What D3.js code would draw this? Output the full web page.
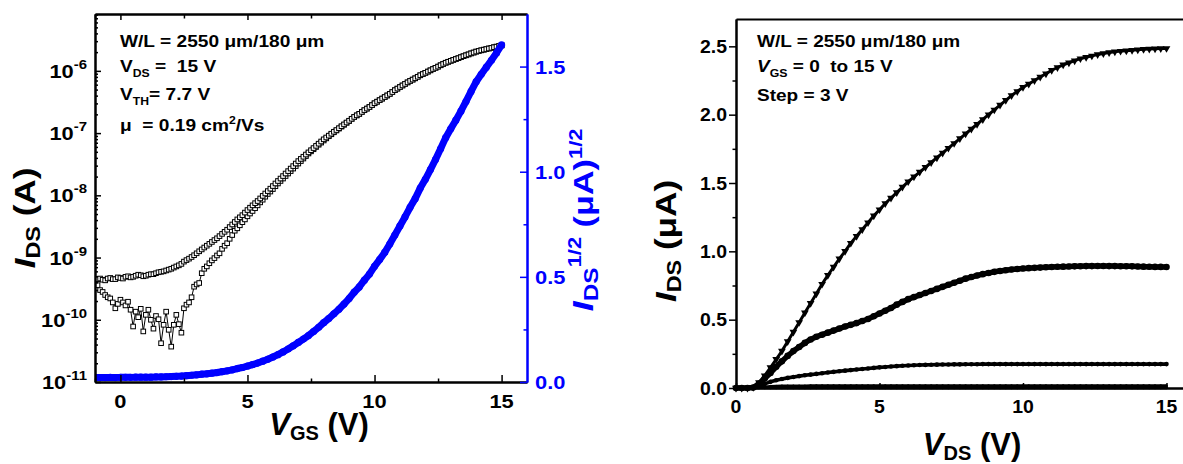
<!DOCTYPE html>
<html><head><meta charset="utf-8">
<script src="https://cdn.jsdelivr.net/npm/d3@7"></script>
<style>
body{margin:0;background:#fff}
svg{display:block}
text{font-family:Arial,"Liberation Sans",sans-serif;font-weight:bold;white-space:pre}
</style>
</head><body>
<svg id="c" width="1183" height="464"></svg>
<script>
// ---------- Transfer curve (left panel) ----------
const vgsFine = [
 -1.0,-0.9,-0.8,-0.7,-0.6,-0.5,-0.4,-0.3,-0.2,-0.1,
 0.0,0.1,0.2,0.3,0.4,0.5,0.6,0.7,0.8,0.9,
 1.0,1.1,1.2,1.3,1.4,1.5,1.6,1.7,1.8,1.9,
 2.0,2.1,2.2,2.3,2.4,2.5,2.6,2.7,2.8,2.9,
 3.0,3.1,3.2,3.3,3.4,3.5,3.6,3.7,3.8,3.9,
 4.0,4.1,4.2,4.3,4.4,4.5,4.6,4.7,4.8,4.9,
 5.0,5.1,5.2,5.3,5.4,5.5,5.6,5.7,5.8,5.9,
 6.0,6.1,6.2,6.3,6.4,6.5,6.6,6.7,6.8,6.9,
 7.0,7.1,7.2,7.3,7.4,7.5,7.6,7.7,7.8,7.9,
 8.0,8.1,8.2,8.3,8.4,8.5,8.6,8.7,8.8,8.9,
 9.0,9.1,9.2,9.3,9.4,9.5,9.6,9.7,9.8,9.9,
 10.0,10.1,10.2,10.3,10.4,10.5,10.6,10.7,10.8,10.9,
 11.0,11.1,11.2,11.3,11.4,11.5,11.6,11.7,11.8,11.9,
 12.0,12.1,12.2,12.3,12.4,12.5,12.6,12.7,12.8,12.9,
 13.0,13.1,13.2,13.3,13.4,13.5,13.6,13.7,13.8,13.9,
 14.0,14.1,14.2,14.3,14.4,14.5,14.6,14.7,14.8,14.9,
 15.0];
const idsSweepA = [ // A, upper branch
 4.4e-10,4.5e-10,4.6e-10,4.4e-10,4.3e-10,4.6e-10,4.7e-10,4.5e-10,4.5e-10,4.8e-10,
 4.7e-10,4.6e-10,4.9e-10,5.0e-10,4.8e-10,4.9e-10,5.1e-10,5.3e-10,5.2e-10,5.0e-10,
 5.1e-10,5.3e-10,5.4e-10,5.4e-10,5.6e-10,5.8e-10,5.9e-10,6.0e-10,6.2e-10,6.4e-10,
 6.6e-10,6.9e-10,7.2e-10,7.5e-10,7.9e-10,8.6e-10,9.1e-10,9.6e-10,1.02e-9,1.09e-9,
 1.17e-9,1.26e-9,1.35e-9,1.45e-9,1.55e-9,1.66e-9,1.78e-9,1.91e-9,2.04e-9,2.21e-9,
 2.40e-9,2.59e-9,2.80e-9,3.09e-9,3.40e-9,3.73e-9,4.10e-9,4.43e-9,4.80e-9,5.28e-9,
 5.80e-9,6.33e-9,6.90e-9,7.48e-9,8.10e-9,8.91e-9,9.80e-9,1.07e-8,1.17e-8,1.28e-8,
 1.41e-8,1.55e-8,1.70e-8,1.86e-8,2.04e-8,2.24e-8,2.45e-8,2.69e-8,2.95e-8,3.24e-8,
 3.55e-8,3.85e-8,4.17e-8,4.52e-8,4.90e-8,5.31e-8,5.75e-8,6.24e-8,6.76e-8,7.33e-8,
 7.94e-8,8.50e-8,9.10e-8,9.78e-8,1.05e-7,1.12e-7,1.20e-7,1.29e-7,1.38e-7,1.48e-7,
 1.58e-7,1.70e-7,1.82e-7,1.93e-7,2.04e-7,2.19e-7,2.34e-7,2.48e-7,2.63e-7,2.82e-7,
 3.02e-7,3.20e-7,3.39e-7,3.59e-7,3.80e-7,4.03e-7,4.27e-7,4.57e-7,4.90e-7,5.19e-7,
 5.50e-7,5.83e-7,6.17e-7,6.53e-7,6.90e-7,7.24e-7,7.60e-7,8.04e-7,8.50e-7,8.89e-7,
 9.30e-7,9.74e-7,1.02e-6,1.07e-6,1.12e-6,1.17e-6,1.23e-6,1.29e-6,1.35e-6,1.40e-6,
 1.45e-6,1.50e-6,1.55e-6,1.60e-6,1.66e-6,1.72e-6,1.78e-6,1.84e-6,1.91e-6,1.97e-6,
 2.04e-6,2.09e-6,2.14e-6,2.19e-6,2.24e-6,2.29e-6,2.34e-6,2.40e-6,2.45e-6,2.51e-6,
 2.57e-6];
const idsSweepB = [ // A, lower (noisy) branch
 4.2e-10,3.6e-10,3.0e-10,2.8e-10,2.5e-10,2.3e-10,2.2e-10,1.9e-10,1.53e-10,1.8e-10,
 2.1e-10,1.9e-10,1.7e-10,1.95e-10,1.45e-10,7.8e-11,1.35e-10,1.1e-10,1.5e-10,6.5e-11,
 1.2e-10,1.45e-10,1.0e-10,7.2e-11,1.15e-10,1.02e-10,4.2e-11,8.3e-11,1.35e-10,6.9e-11,
 3.7e-11,8.3e-11,1.2e-10,8.5e-11,6.2e-11,1.53e-10,1.75e-10,1.9e-10,2.3e-10,3.4e-10,
 3.7e-10,3.9e-10,5.6e-10,6.6e-10,7.2e-10,8.1e-10,9.0e-10,9.8e-10,1.08e-9,1.17e-9,
 1.38e-9,1.55e-9,1.70e-9,2.0e-9,2.3e-9,2.7e-9,2.95e-9,3.3e-9,3.7e-9,4.1e-9,
 4.6e-9,5.1e-9,5.6e-9,6.2e-9,6.9e-9,7.7e-9,8.5e-9,9.5e-9,1.05e-8,1.15e-8,
 1.26e-8,1.40e-8,1.55e-8,1.70e-8,1.86e-8,2.04e-8,2.24e-8,2.45e-8,2.69e-8,2.95e-8,
 3.24e-8,3.55e-8,3.90e-8,4.27e-8,4.70e-8,5.09e-8,5.50e-8,5.98e-8,6.50e-8,7.03e-8,
 7.60e-8,8.22e-8,8.90e-8,9.57e-8,1.03e-7,1.10e-7,1.18e-7,1.27e-7,1.36e-7,1.46e-7,
 1.56e-7,1.69e-7,1.81e-7,1.92e-7,2.03e-7,2.18e-7,2.33e-7,2.47e-7,2.62e-7,2.81e-7,
 3.01e-7,3.19e-7,3.38e-7,3.58e-7,3.79e-7,4.02e-7,4.26e-7,4.56e-7,4.89e-7,5.18e-7,
 5.49e-7,5.82e-7,6.16e-7,6.52e-7,6.89e-7,7.23e-7,7.59e-7,8.03e-7,8.49e-7,8.88e-7,
 9.29e-7,9.73e-7,1.02e-6,1.07e-6,1.12e-6,1.17e-6,1.23e-6,1.29e-6,1.35e-6,1.40e-6,
 1.45e-6,1.50e-6,1.55e-6,1.60e-6,1.66e-6,1.72e-6,1.78e-6,1.84e-6,1.91e-6,1.97e-6,
 2.04e-6,2.09e-6,2.14e-6,2.19e-6,2.24e-6,2.29e-6,2.34e-6,2.40e-6,2.45e-6,2.51e-6,
 2.57e-6];
const vgs = [
 -1.0,-0.8,-0.6,-0.4,-0.2,0.0,0.2,0.4,0.6,0.8,
 1.0,1.2,1.4,1.6,1.8,2.0,2.2,2.4,2.6,2.8,
 3.0,3.2,3.4,3.6,3.8,4.0,4.2,4.4,4.6,4.8,
 5.0,5.2,5.4,5.6,5.8,6.0,6.2,6.4,6.6,6.8,
 7.0,7.2,7.4,7.6,7.8,8.0,8.2,8.4,8.6,8.8,
 9.0,9.2,9.4,9.6,9.8,10.0,10.2,10.4,10.6,10.8,
 11.0,11.2,11.4,11.6,11.8,12.0,12.2,12.4,12.6,12.8,
 13.0,13.2,13.4,13.6,13.8,14.0,14.2,14.4,14.6,14.8,
 15.0];
const sqrtIds = [ // (uA)^1/2
 0.021,0.021,0.021,0.022,0.021,0.022,0.022,0.022,0.023,0.023,
 0.023,0.023,0.024,0.024,0.025,0.026,0.027,0.028,0.030,0.032,
 0.034,0.037,0.039,0.042,0.045,0.049,0.053,0.058,0.064,0.069,
 0.076,0.083,0.090,0.099,0.108,0.119,0.130,0.143,0.157,0.172,
 0.188,0.204,0.221,0.240,0.260,0.282,0.302,0.324,0.346,0.371,
 0.397,0.427,0.452,0.484,0.513,0.550,0.582,0.616,0.656,0.699,
 0.742,0.785,0.831,0.872,0.922,0.964,1.010,1.058,1.109,1.162,
 1.204,1.245,1.288,1.334,1.382,1.428,1.463,1.497,1.530,1.565,
 1.603];
const transferXTicks = [0,5,10,15];
const transferXMinor = [-1,2.5,7.5,12.5];
const logDecades = [-11,-10,-9,-8,-7,-6];
const sqrtTicks = [0,0.5,1.0,1.5];
const sqrtMinor = [0.25,0.75,1.25];

// ---------- Output curves (right panel) ----------
const vds = [
 0.0,0.2,0.4,0.6,0.8,1.0,1.2,1.4,1.6,1.8,
 2.0,2.2,2.4,2.6,2.8,3.0,3.2,3.4,3.6,3.8,
 4.0,4.2,4.4,4.6,4.8,5.0,5.2,5.4,5.6,5.8,
 6.0,6.2,6.4,6.6,6.8,7.0,7.2,7.4,7.6,7.8,
 8.0,8.2,8.4,8.6,8.8,9.0,9.2,9.4,9.6,9.8,
 10.0,10.2,10.4,10.6,10.8,11.0,11.2,11.4,11.6,11.8,
 12.0,12.2,12.4,12.6,12.8,13.0,13.2,13.4,13.6,13.8,
 14.0,14.2,14.4,14.6,14.8,15.0];
const idsVgs15 = [
 0,0,0,0.005,0.04,0.09,0.15,0.21,0.27,0.34,
 0.41,0.48,0.55,0.62,0.69,0.76,0.825,0.885,0.945,1.00,
 1.06,1.11,1.16,1.21,1.26,1.305,1.35,1.39,1.43,1.47,
 1.51,1.545,1.58,1.615,1.65,1.685,1.72,1.755,1.79,1.825,
 1.86,1.895,1.93,1.965,2.00,2.035,2.07,2.105,2.14,2.17,
 2.20,2.225,2.25,2.275,2.30,2.325,2.345,2.365,2.38,2.395,
 2.41,2.42,2.43,2.44,2.448,2.455,2.46,2.465,2.468,2.472,
 2.475,2.478,2.48,2.482,2.484,2.485];
const idsVgs12 = [
 0,0,0,0.003,0.03,0.07,0.11,0.155,0.195,0.235,
 0.27,0.30,0.33,0.355,0.375,0.39,0.405,0.42,0.435,0.45,
 0.462,0.475,0.49,0.505,0.525,0.545,0.565,0.585,0.61,0.63,
 0.65,0.665,0.68,0.695,0.71,0.725,0.74,0.755,0.77,0.785,
 0.80,0.812,0.823,0.833,0.842,0.85,0.856,0.862,0.867,0.871,
 0.874,0.877,0.879,0.881,0.883,0.885,0.887,0.888,0.889,0.89,
 0.891,0.892,0.892,0.893,0.893,0.892,0.892,0.891,0.891,0.89,
 0.889,0.888,0.887,0.886,0.886,0.885];
const idsVgs9 = [
 0,0,0,0.002,0.015,0.03,0.045,0.057,0.066,0.074,
 0.081,0.087,0.093,0.098,0.103,0.108,0.113,0.118,0.123,0.127,
 0.131,0.135,0.139,0.143,0.147,0.151,0.154,0.157,0.160,0.163,
 0.165,0.167,0.168,0.169,0.170,0.171,0.172,0.172,0.173,0.173,
 0.174,0.174,0.174,0.175,0.175,0.175,0.175,0.175,0.175,0.175,
 0.175,0.175,0.175,0.175,0.175,0.175,0.175,0.175,0.175,0.175,
 0.175,0.175,0.175,0.175,0.175,0.175,0.175,0.175,0.175,0.175,
 0.175,0.175,0.175,0.175,0.175,0.175];
const idsVgs6 = [
 0,0,0,0,0.004,0.008,0.011,0.013,0.014,0.014,
 0.015,0.015,0.015,0.016,0.016,0.016,0.016,0.016,0.017,0.017,
 0.017,0.017,0.017,0.017,0.017,0.017,0.017,0.017,0.017,0.017,
 0.017,0.017,0.017,0.017,0.017,0.017,0.017,0.017,0.017,0.017,
 0.017,0.017,0.017,0.017,0.017,0.017,0.017,0.017,0.017,0.017,
 0.017,0.017,0.017,0.017,0.017,0.017,0.017,0.017,0.017,0.017,
 0.017,0.017,0.017,0.017,0.017,0.017,0.017,0.017,0.017,0.017,
 0.017,0.017,0.017,0.017,0.017,0.017];
const idsVgs3 = [
 0,0,0,0,0.001,0.002,0.002,0.002,0.002,0.002,
 0.002,0.002,0.002,0.002,0.002,0.002,0.002,0.002,0.002,0.002,
 0.002,0.002,0.002,0.002,0.002,0.002,0.002,0.002,0.002,0.002,
 0.002,0.002,0.002,0.002,0.002,0.002,0.002,0.002,0.002,0.002,
 0.002,0.002,0.002,0.002,0.002,0.002,0.002,0.002,0.002,0.002,
 0.002,0.002,0.002,0.002,0.002,0.002,0.002,0.002,0.002,0.002,
 0.002,0.002,0.002,0.002,0.002,0.002,0.002,0.002,0.002,0.002,
 0.002,0.002,0.002,0.002,0.002,0.002];
const idsVgs0 = [
 0,0,0,0,0,0,0,0,0,0, 0,0,0,0,0,0,0,0,0,0,
 0,0,0,0,0,0,0,0,0,0, 0,0,0,0,0,0,0,0,0,0,
 0,0,0,0,0,0,0,0,0,0, 0,0,0,0,0,0,0,0,0,0,
 0,0,0,0,0,0,0,0,0,0, 0,0,0,0,0,0];
const outXTicks = [0,5,10,15];
const outXMinor = [2.5,7.5,12.5];
const outYTicks = [0,0.5,1.0,1.5,2.0,2.5];
const outYMinor = [0.25,0.75,1.25,1.75,2.25];

// ---------- drawing ----------
const svg = d3.select("#c");
const BLUE = "#0000ff";

function rich(parent, x, y, parts, opt) {
  let tr = `translate(${x},${y})`;
  if (opt.rotate) tr += ` rotate(${opt.rotate})`;
  if (opt.sx) tr += ` scale(${opt.sx},1)`;
  const t = parent.append("g").attr("transform", tr).append("text")
    .attr("text-anchor", opt.anchor || "start")
    .attr("fill", opt.fill || "#000")
    .style("font-size", opt.size + "px");
  let cur = 0;
  parts.forEach(p => {
    const s = p.shift || 0;
    const ts = t.append("tspan").attr("dy", s - cur).text(p.t);
    cur = s;
    if (p.size) ts.style("font-size", p.size + "px");
    if (p.italic) ts.style("font-style", "italic");
  });
  return t;
}
function styleAxis(g, color, w) {
  g.select(".domain").attr("stroke", color).attr("stroke-width", w);
  g.selectAll(".tick line").attr("stroke", color).attr("stroke-width", 1.5);
  g.selectAll(".tick text").remove();
}

// ===== Left panel =====
const xL = d3.scaleLinear().domain([-1, 16]).range([95, 527]);
const yLog = d3.scaleLog().domain([1e-11, 8.2e-6]).range([382, 14]);
const ySq = d3.scaleLinear().domain([0, 1.75]).range([382, 14]);

svg.append("clipPath").attr("id", "clipL").append("rect")
  .attr("x", 95).attr("y", 14).attr("width", 432).attr("height", 368);
const gL = svg.append("g").attr("clip-path", "url(#clipL)");

[idsSweepB, idsSweepA].forEach(series => {
  const pts = vgsFine.map((v, i) => [xL(v), yLog(series[i])]);
  gL.append("path").attr("d", d3.line()(pts)).attr("fill", "none")
    .attr("stroke", "#000").attr("stroke-width", 1);
  gL.selectAll(null).data(pts).join("rect")
    .attr("x", d => d[0] - 2.3).attr("y", d => d[1] - 2.3)
    .attr("width", 4.6).attr("height", 4.6)
    .attr("fill", "#fff").attr("stroke", "#000").attr("stroke-width", 1);
});
const sqPts = vgs.map((v, i) => [xL(v), ySq(sqrtIds[i])]);
gL.append("path").attr("d", d3.line()(sqPts)).attr("fill", "none")
  .attr("stroke", BLUE).attr("stroke-width", 7).attr("stroke-linejoin", "round");
gL.selectAll(null).data(sqPts).join("circle")
  .attr("cx", d => d[0]).attr("cy", d => d[1]).attr("r", 3.6).attr("fill", BLUE);

// axes left panel
const decVals = logDecades.map(d => Math.pow(10, d));
const minorLog = yLog.ticks().filter(v => !decVals.some(d => Math.abs(d - v) / d < 1e-6));
let a;
a = svg.append("g").attr("transform", "translate(0,382)")
  .call(d3.axisBottom(xL).tickValues(transferXTicks).tickSize(-7).tickSizeOuter(0)); styleAxis(a, "#000", 2);
a = svg.append("g").attr("transform", "translate(0,382)")
  .call(d3.axisBottom(xL).tickValues(transferXMinor).tickSize(-3.5).tickSizeOuter(0)); styleAxis(a, "#000", 2);
a = svg.append("g").attr("transform", "translate(0,14)")
  .call(d3.axisTop(xL).tickValues(transferXTicks).tickSize(-6).tickSizeOuter(0)); styleAxis(a, "#000", 2);
a = svg.append("g").attr("transform", "translate(0,14)")
  .call(d3.axisTop(xL).tickValues(transferXMinor).tickSize(-4.5).tickSizeOuter(0)); styleAxis(a, "#000", 2);
a = svg.append("g").attr("transform", "translate(95,0)")
  .call(d3.axisLeft(yLog).tickValues(decVals).tickSize(-6).tickSizeOuter(0)); styleAxis(a, "#000", 2);
a = svg.append("g").attr("transform", "translate(95,0)")
  .call(d3.axisLeft(yLog).tickValues(minorLog).tickSize(-3).tickSizeOuter(0)); styleAxis(a, "#000", 2);
a = svg.append("g").attr("transform", "translate(527,0)")
  .call(d3.axisRight(ySq).tickValues(sqrtTicks).tickSize(-7).tickSizeOuter(0)); styleAxis(a, BLUE, 2);
a = svg.append("g").attr("transform", "translate(527,0)")
  .call(d3.axisRight(ySq).tickValues(sqrtMinor).tickSize(-3.5).tickSizeOuter(0)); styleAxis(a, BLUE, 2);

// tick labels left panel
logDecades.forEach(d => {
  rich(svg, 87, yLog(Math.pow(10, d)) + 7, [{t: "10"}, {t: String(d), size: 13, shift: -9}],
    {size: 19, anchor: "end", sx: 1.15});
});
transferXTicks.forEach(v => rich(svg, xL(v), 408, [{t: String(v)}], {size: 19, anchor: "middle", sx: 1.15}));
sqrtTicks.forEach(v => rich(svg, 535, ySq(v) + 7, [{t: d3.format(".1f")(v)}], {size: 19, sx: 1.15, fill: BLUE}));

// annotations left
rich(svg, 120, 47, [{t: "W/L = 2550 μm/180 μm"}], {size: 16.5, sx: 1.16});
rich(svg, 120, 72, [{t: "V"}, {t: "DS", size: 10.5, shift: 5}, {t: " =  15 V"}], {size: 16.5, sx: 1.16});
rich(svg, 120, 100, [{t: "V"}, {t: "TH", size: 10.5, shift: 5}, {t: "= 7.7 V"}], {size: 16.5, sx: 1.16});
rich(svg, 120, 131, [{t: "μ  = 0.19 cm"}, {t: "2", size: 10.5, shift: -7}, {t: "/Vs"}], {size: 16.5, sx: 1.16});

// titles left
rich(svg, 35, 218, [{t: "I", italic: true}, {t: "DS", size: 20, shift: 5}, {t: " (A)"}], {size: 30, anchor: "middle", rotate: -90, sx: 1.17});
rich(svg, 319, 435, [{t: "V", italic: true}, {t: "GS", size: 20, shift: 5}, {t: " (V)"}], {size: 31, anchor: "middle"});
rich(svg, 593, 220, [{t: "I", italic: true}, {t: "DS", size: 20, shift: 5}, {t: "1/2", size: 18, shift: -12},
  {t: " (μA)", size: 28}, {t: "1/2", size: 18, shift: -11}], {size: 30, anchor: "middle", rotate: -90, fill: BLUE, sx: 1.22});

// ===== Right panel =====
const xR = d3.scaleLinear().domain([0, 15.575]).range([736, 1183]);
const yR = d3.scaleLinear().domain([0, 2.7]).range([388, 19]);

const outSeries = [
  {v: idsVgs0, w: 2.5, r: 1.3, sym: "circle"},
  {v: idsVgs3, w: 2.5, r: 1.3, sym: "circle"},
  {v: idsVgs6, w: 3, r: 1.5, sym: "circle"},
  {v: idsVgs9, w: 3.6, r: 2.3, sym: "circle"},
  {v: idsVgs12, w: 5.5, r: 3.3, sym: "circle"},
  {v: idsVgs15, w: 3, r: 0, sym: "tri"}
];
const gR = svg.append("g");
outSeries.forEach(s => {
  const pts = vds.map((v, i) => [xR(v), yR(s.v[i])]);
  gR.append("path").attr("d", d3.line()(pts)).attr("fill", "none")
    .attr("stroke", "#000").attr("stroke-width", s.w).attr("stroke-linejoin", "round");
  if (s.sym === "circle") {
    gR.selectAll(null).data(pts).join("circle")
      .attr("cx", d => d[0]).attr("cy", d => d[1]).attr("r", s.r).attr("fill", "#000");
  } else {
    const tri = d3.symbol().type(d3.symbolTriangle).size(26)();
    gR.selectAll(null).data(pts).join("path").attr("d", tri)
      .attr("transform", d => `translate(${d[0]},${d[1]}) rotate(180)`).attr("fill", "#000");
  }
});

a = svg.append("g").attr("transform", "translate(736,0)")
  .call(d3.axisLeft(yR).tickValues(outYTicks).tickSize(7).tickSizeOuter(0)); styleAxis(a, "#000", 2);
a = svg.append("g").attr("transform", "translate(736,0)")
  .call(d3.axisLeft(yR).tickValues(outYMinor).tickSize(3.5).tickSizeOuter(0)); styleAxis(a, "#000", 2);
a = svg.append("g").attr("transform", "translate(0,388)")
  .call(d3.axisBottom(xR).tickValues(outXTicks).tickSize(-5).tickSizeOuter(0)); styleAxis(a, "#000", 2);
a = svg.append("g").attr("transform", "translate(0,388)")
  .call(d3.axisBottom(xR).tickValues(outXMinor).tickSize(-3).tickSizeOuter(0)); styleAxis(a, "#000", 2);
a = svg.append("g").attr("transform", "translate(0,19)")
  .call(d3.axisTop(xR).tickValues([]).tickSizeOuter(0)); styleAxis(a, "#000", 2);

outYTicks.forEach(v => rich(svg, 727, yR(v) + 6.5, [{t: d3.format(".1f")(v)}], {size: 18, anchor: "end", sx: 1.08}));
outXTicks.forEach(v => rich(svg, xR(v), 413, [{t: String(v)}], {size: 18, anchor: "middle", sx: 1.08}));

rich(svg, 757, 47, [{t: "W/L = 2550 μm/180 μm"}], {size: 17, sx: 1.12});
rich(svg, 757, 72, [{t: "V", italic: true}, {t: "GS", size: 11, shift: 5}, {t: " = 0  to 15 V"}], {size: 17, sx: 1.12});
rich(svg, 757, 101, [{t: "Step = 3 V"}], {size: 17, sx: 1.12});

rich(svg, 676, 241, [{t: "I", italic: true}, {t: "DS", size: 20, shift: 5}, {t: " (μA)"}], {size: 30, anchor: "middle", rotate: -90, sx: 1.17});
rich(svg, 972, 455, [{t: "V", italic: true}, {t: "DS", size: 20, shift: 5}, {t: " (V)"}], {size: 31, anchor: "middle"});
</script>
</body></html>
